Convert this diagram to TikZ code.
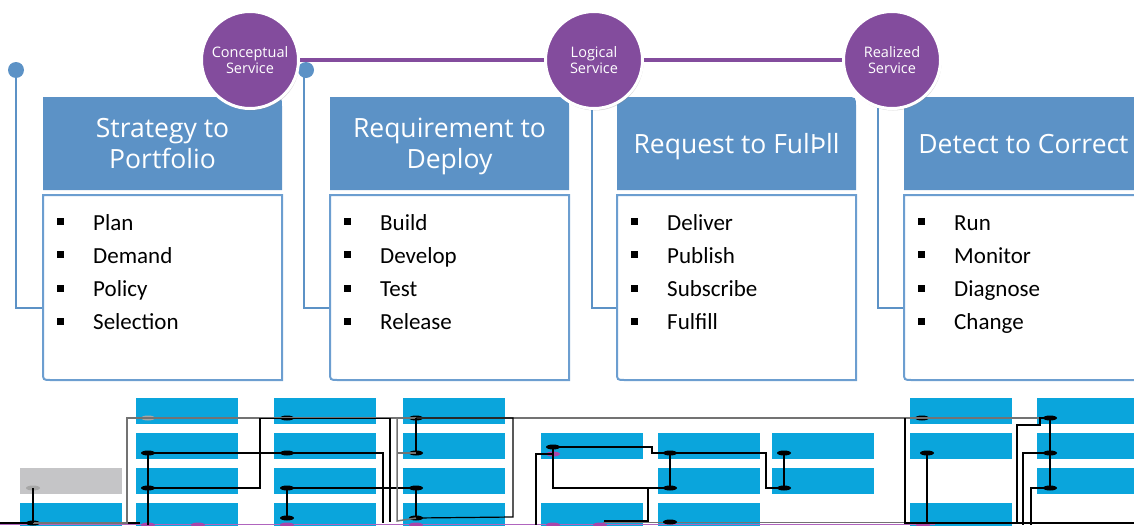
\documentclass[tikz,border=0pt]{standalone}
\usepackage{fontspec}
\setmainfont{Carlito}
\newfontfamily\osans{Open Sans}
\usetikzlibrary{shadows,backgrounds,shapes.geometric}
\definecolor{hdr}{RGB}{92,146,198}
\definecolor{bord}{RGB}{108,158,208}
\definecolor{tl}{RGB}{92,146,198}
\definecolor{pur}{RGB}{131,76,157}
\definecolor{cyanbox}{RGB}{10,165,220}
\definecolor{grbox}{RGB}{197,197,199}
\definecolor{mag}{RGB}{176,100,190}
\definecolor{magdot}{RGB}{170,70,170}
\tikzset{
  title/.style={font=\osans\fontsize{26.5}{31}\selectfont, text=white, anchor=base, inner sep=0},
  item/.style={font=\fontsize{23}{27}\selectfont, text=black, anchor=base west, inner sep=0},
  bodyline/.style={draw=bord, line width=2, fill=white},
  tline/.style={draw=tl, line width=2},
  svc/.style={circle, fill=pur, draw=white, line width=3, minimum size=97, inner sep=0,
    text=white, align=center, font=\osans\fontsize{14.5}{16}\selectfont,
    drop shadow={opacity=0.3, shadow xshift=1pt, shadow yshift=-2pt}},
  tdot/.style={circle, fill=tl, minimum size=16, inner sep=0},
  bdot/.style={ellipse, fill=black, minimum width=14, minimum height=5, inner sep=0},
  gdot/.style={ellipse, fill=black!35, minimum width=14, minimum height=5, inner sep=0},
  mdot/.style={ellipse, fill=magdot, minimum width=14, minimum height=5, inner sep=0},
  cline/.style={draw=black, line width=1.2},
  gline/.style={draw=black!55, line width=1.5},
}
\newcommand\blockframe[6]{%
  \fill[hdr] (#1,190) -- (#1,97) -- ({#1+229},97) .. controls ({#1+239},97) .. ({#1+239},107) -- ({#1+239},190) -- cycle;
  \draw[bodyline] (#1,195) -- ({#1+239},195) -- ({#1+239},380) -- ({#1+8},380) .. controls (#1,380) .. (#1,372) -- cycle;
  \foreach \t [count=\k from 0] in {#3,#4,#5,#6} {
    \fill[black] ({#1+14},{218+33.3*\k}) rectangle ++(7,7);
    \node[item] (#2-\k) at ({#1+50},{230+33.3*\k}) {\t};
  }%
}
\begin{document}
\begin{tikzpicture}[x=1pt,y=-1pt]
\useasboundingbox (0,0) rectangle (1134,525);
\clip (0,0) rectangle (1134,525);

% timelines
\node[tdot] (t1) at (16,70) {};
\node[tdot] (t2) at (306,70) {};
\coordinate (t3) at (592,62);
\coordinate (t4) at (878,62);
\draw[tline] (t1.center) |- (43,308) coordinate (t1e);
\draw[tline] (t2.center) -- (304,70) |- (330,308) coordinate (t2e);
\draw[tline] (t3) |- (617,308) coordinate (t3e);
\draw[tline] (t4) |- (904,308) coordinate (t4e);

% blocks
\blockframe{43}{s2p}{Plan}{Demand}{Policy}{Selection}
\blockframe{330}{r2d}{Build}{Develop}{Test}{Release}
\blockframe{617}{r2f}{Deliver}{Publish}{Subscribe}{Fulfill}
\blockframe{904}{d2c}{Run}{Monitor}{Diagnose}{Change}

\node[title] (s2p-t1) at (162.5,137) {Strategy to};
\node[title] (s2p-t2) at (162.5,168) {Portfolio};
\node[title] (r2d-t1) at (449.5,137) {Requirement to};
\node[title] (r2d-t2) at (449.5,168) {Deploy};
\node[title] (r2f-t) at (736.5,153) {Request to FulÞll};
\node[title] (d2c-t) at (1023.5,153) {Detect to Correct};

% service circles
\node[svc] (con) at (250,60) {Conceptual\\Service};
\node[svc] (log) at (594,60) {Logical\\Service};
\node[svc] (rea) at (892,60) {Realized\\Service};
\begin{scope}[on background layer]
\draw[pur, line width=4] (con.center) -- (log.center) -- (rea.center);
\end{scope}

% bottom boxes
\foreach \x/\y in {20/503,136/398,136/433,136/468,136/503,274/398,274/433,274/468,274/503,
  403/398,403/433,403/468,403/503,541/433,541/503,658/433,658/468,658/503,772/433,772/468,
  910/398,910/433,910/503,1037/398,1037/433,1037/468}
  \fill[cyanbox] (\x,\y) rectangle ++(102,26);
\fill[grbox] (20,468) rectangle ++(102,26);

% bottom base lines
\draw[mag, line width=1.6] (0,524.5) -- (935,524.5);
\draw[cline] (0,523) -- (140,523);
\draw[gline] (603,522.5) -- (905,522.5);
\draw[cline] (927,523) -- (1134,523);

% dots
\node[gdot] (a3) at (33,488) {};
\node[bdot] (a4) at (33,523) {};
\node[gdot] (b1) at (148,418) {};
\node[bdot] (b2) at (148,453) {};
\node[bdot] (b3) at (148,488) {};
\node[mdot] (b4) at (148,525) {};
\node[mdot] (bx) at (198,525) {};
\node[bdot] (c1) at (287,418) {};
\node[bdot] (c2) at (287,453) {};
\node[bdot] (c3) at (287,488) {};
\node[bdot] (c4) at (287,518) {};
\node[mdot] (c5) at (287,525) {};
\node[bdot] (d1) at (416,418) {};
\node[bdot] (d2) at (416,453) {};
\node[bdot] (d3) at (416,488) {};
\node[bdot] (d4) at (416,518) {};
\node[mdot] (d5) at (416,525) {};
\node[bdot] (e2) at (553,447) {};
\node[mdot] (e2m) at (553,454) {};
\node[mdot] (e5) at (553,525) {};
\node[mdot] (e6) at (600,525) {};
\node[bdot] (f2) at (670,453) {};
\node[bdot] (f3) at (670,488) {};
\node[bdot] (f4) at (670,522) {};
\node[bdot] (g2) at (784,453) {};
\node[bdot] (g3) at (784,488) {};
\node[bdot] (h1) at (922,418) {};
\node[bdot] (h2) at (927,453) {};
\node[mdot] (h5) at (923,525) {};
\node[bdot] (i1) at (1050,418) {};
\node[bdot] (i2) at (1050,453) {};
\node[bdot] (i3) at (1050,488) {};

% connectors
\draw[gline] (i1.center) -| (127,523) -- (a4.center);
\draw[cline] (a3.center) -- (a4.center);
\draw[cline] (b2.center) -- (b4.center);
\draw[cline] (b2.center) -| (383,523);
\draw[cline] (b3.center) -| (260,418.5) -- (390,418.5) -- (390,522);
\draw[cline] (c3.center) -- (c4.center);
\draw[cline] (c3.center) -- (d3.center);
\draw[cline] (d1.center) -- (d2.center);
\draw[cline] (d3.center) -- (d4.center);
\draw[cline] (d1.center) -| (513,517) -- (d4.center);
\draw[gline] (397,418) -- (397,521) -- (d4.center);
\draw[gline] (d2.center) -- (397,453);
\draw[cline] (e2.center) -- (652,447) -- (652,453) -- (766,453) |- (g3.center);
\draw[cline] (e2.center) |- (f3.center);
\draw[cline] (e2m.center) -| (536,525);
\draw[cline] (f2.center) -- (f3.center);
\draw[cline] (f3.center) -| (648,521) -- (604,521);
\draw[cline] (g2.center) -- (g3.center);
\draw[cline] (i1.center) -- (1040,418) -- (1040,425) -- (1017,425) -- (1017,523) -- (905,523) -- (905,418);
\draw[cline] (h2.center) -- (927,523);
\draw[cline] (i1.center) -- (i3.center);
\draw[cline] (i2.center) -| (1023,525);
\draw[cline] (i3.center) -| (1031,525);
\end{tikzpicture}
\end{document}
